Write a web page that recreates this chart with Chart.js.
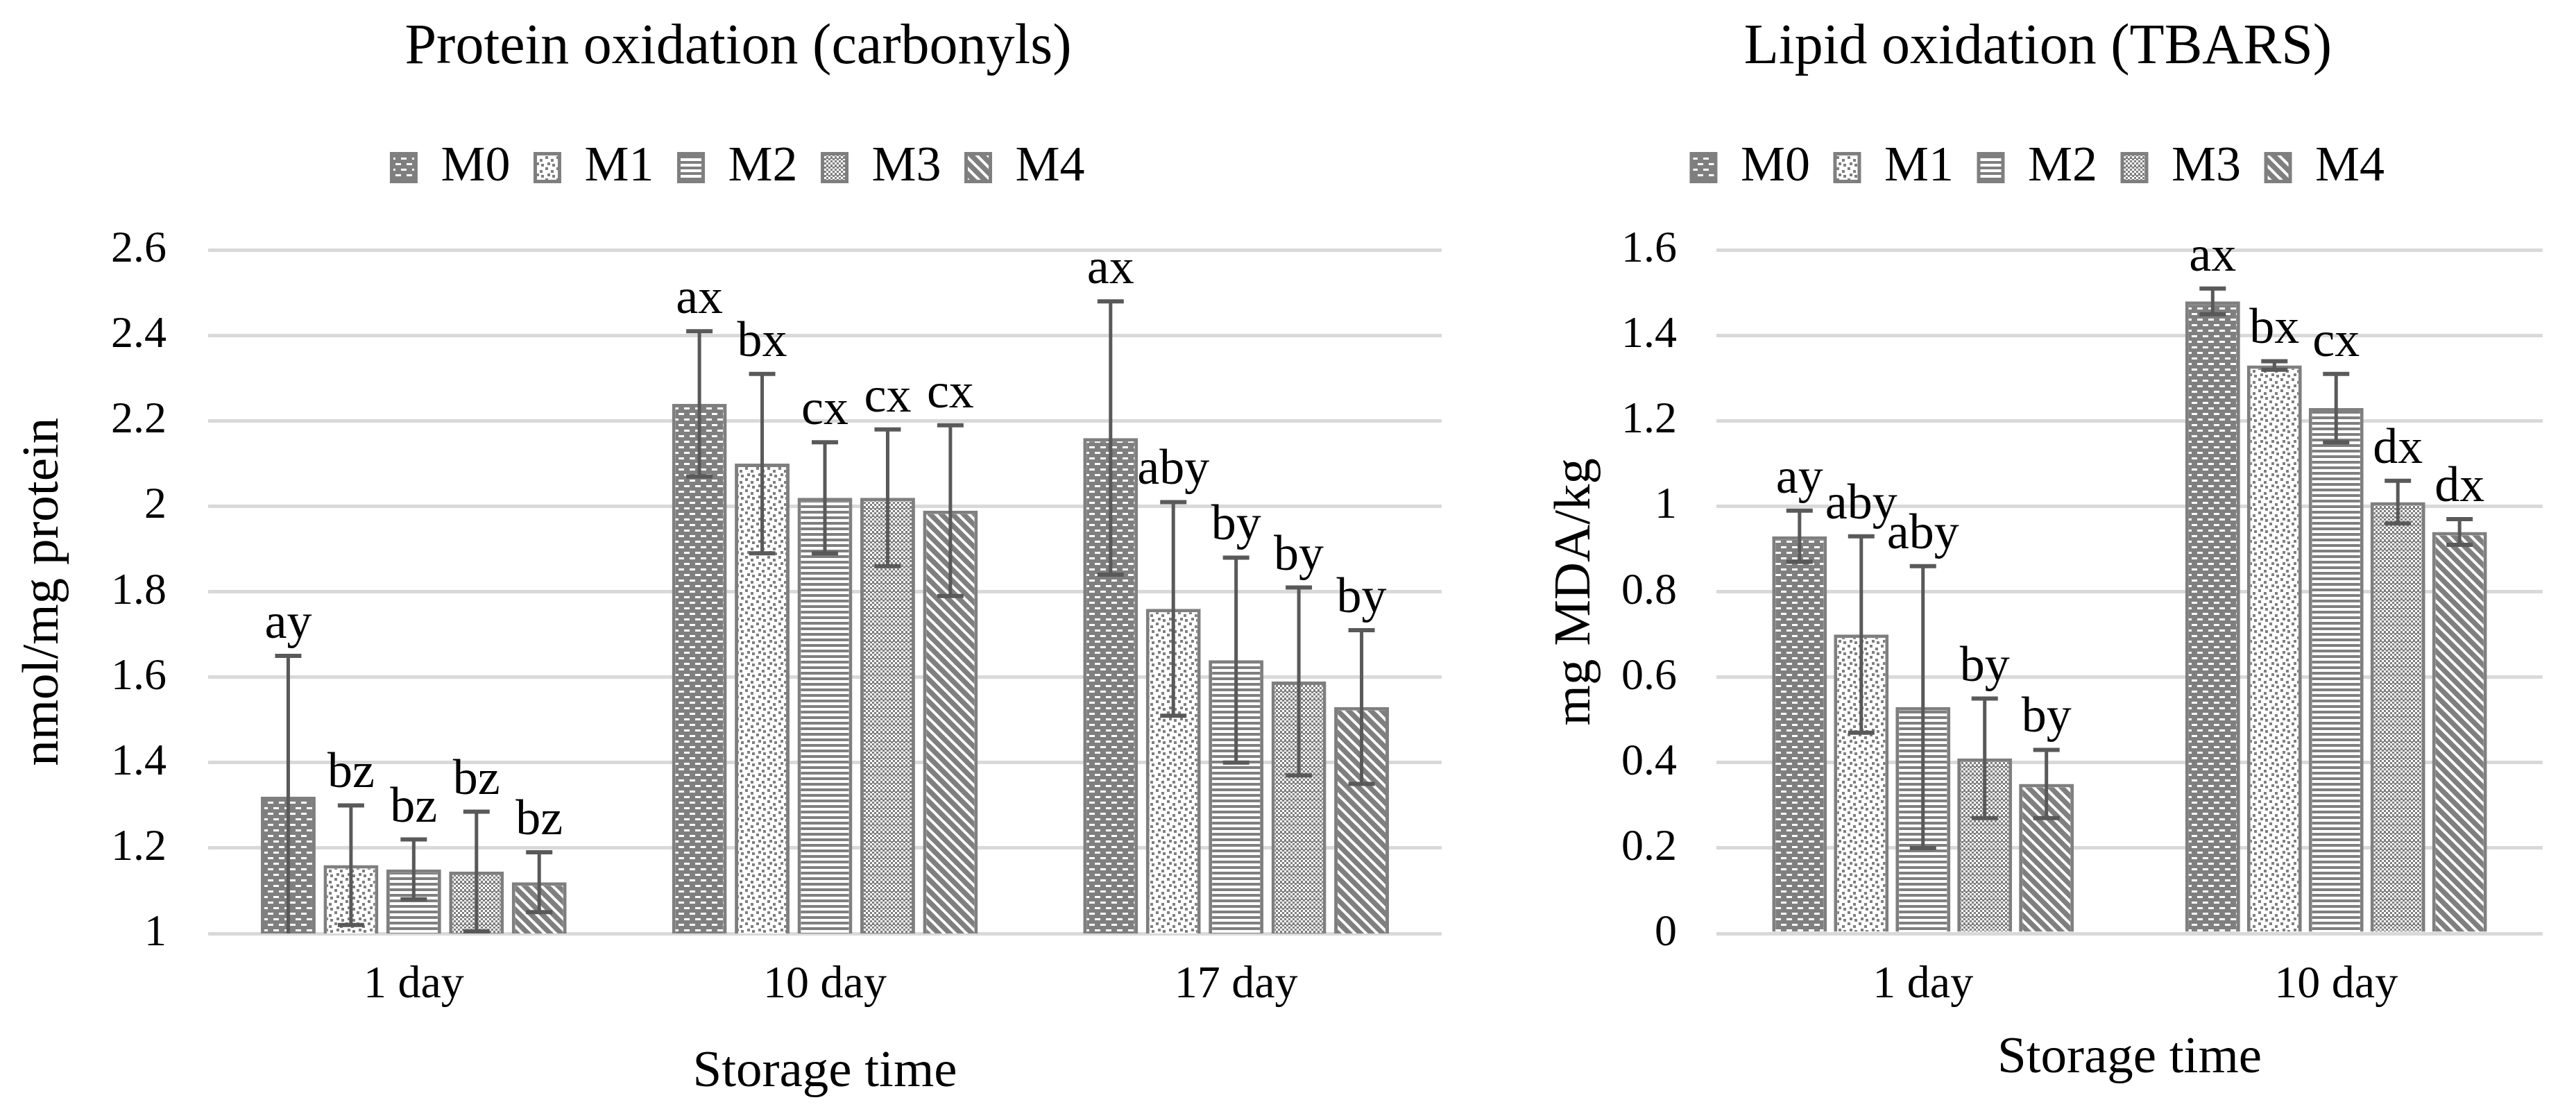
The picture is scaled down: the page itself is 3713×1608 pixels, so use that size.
<!DOCTYPE html>
<html>
<head>
<meta charset="utf-8">
<script src="https://cdn.jsdelivr.net/npm/chart.js@4.4.1/dist/chart.umd.min.js"></script>
<style>
  html, body { margin: 0; padding: 0; background: #fff; }
  body { width: 3713px; height: 1608px; position: relative; overflow: hidden; }
  .panel { position: absolute; top: 0; height: 1608px; }
  #proteinBox { left: 0; width: 2128px; }
  #lipidBox { left: 2149px; width: 1564px; }
</style>
</head>
<body>
<div class="panel" id="proteinBox"><canvas id="proteinChart"></canvas></div>
<div class="panel" id="lipidBox"><canvas id="lipidChart"></canvas></div>
<script>
const treatments = ['M0', 'M1', 'M2', 'M3', 'M4'];

// Protein oxidation (carbonyls), nmol/mg protein
const proteinDays = ['1 day', '10 day', '17 day'];
const proteinM0 = [1.32, 2.24, 2.16];
const proteinM1 = [1.16, 2.10, 1.76];
const proteinM2 = [1.15, 2.02, 1.64];
const proteinM3 = [1.145, 2.02, 1.59];
const proteinM4 = [1.12, 1.99, 1.53];
const proteinErrM0 = [0.33, 0.17, 0.32];
const proteinErrM1 = [0.14, 0.21, 0.25];
const proteinErrM2 = [0.07, 0.13, 0.24];
const proteinErrM3 = [0.14, 0.16, 0.22];
const proteinErrM4 = [0.07, 0.20, 0.18];
const proteinLetM0 = ['ay', 'ax', 'ax'];
const proteinLetM1 = ['bz', 'bx', 'aby'];
const proteinLetM2 = ['bz', 'cx', 'by'];
const proteinLetM3 = ['bz', 'cx', 'by'];
const proteinLetM4 = ['bz', 'cx', 'by'];
const proteinMin = 1, proteinMax = 2.6, proteinStep = 0.2;

// Lipid oxidation (TBARS), mg MDA/kg
const lipidDays = ['1 day', '10 day'];
const lipidM0 = [0.93, 1.48];
const lipidM1 = [0.70, 1.33];
const lipidM2 = [0.53, 1.23];
const lipidM3 = [0.41, 1.01];
const lipidM4 = [0.35, 0.94];
const lipidErrM0 = [0.06, 0.03];
const lipidErrM1 = [0.23, 0.01];
const lipidErrM2 = [0.33, 0.08];
const lipidErrM3 = [0.14, 0.05];
const lipidErrM4 = [0.08, 0.03];
const lipidLetM0 = ['ay', 'ax'];
const lipidLetM1 = ['aby', 'bx'];
const lipidLetM2 = ['aby', 'cx'];
const lipidLetM3 = ['by', 'dx'];
const lipidLetM4 = ['by', 'dx'];
const lipidMin = 0, lipidMax = 1.6, lipidStep = 0.2;

const SERIF = "'Liberation Serif', 'Times New Roman', serif";
const GRAY = '#7f7f7f';
Chart.defaults.font.family = SERIF;
Chart.defaults.color = '#000';

function tile(ctx, w, h, draw) {
    const c = document.createElement('canvas');
    c.width = w;
    c.height = h;
    const g = c.getContext('2d');
    draw(g);
    return ctx.createPattern(c, 'repeat');
}

function makePatterns(ctx) {
    return [
        tile(ctx, 16, 16, function(g) {
            g.fillStyle = GRAY; g.fillRect(0, 0, 16, 16);
            g.fillStyle = '#fff';
            g.fillRect(2, 3, 8, 3);
            g.fillRect(10, 11, 6, 3);
            g.fillRect(0, 11, 2, 3);
        }),
        tile(ctx, 16, 16, function(g) {
            g.fillStyle = '#fff'; g.fillRect(0, 0, 16, 16);
            g.fillStyle = GRAY;
            g.fillRect(2, 1, 4, 4);
            g.fillRect(10, 5, 4, 4);
            g.fillRect(5, 10, 4, 4);
            g.fillRect(12, 12, 4, 4);
        }),
        tile(ctx, 8, 8, function(g) {
            g.fillStyle = '#fff'; g.fillRect(0, 0, 8, 8);
            g.fillStyle = GRAY; g.fillRect(0, 0, 8, 4);
        }),
        tile(ctx, 12, 12, function(g) {
            g.fillStyle = '#fff'; g.fillRect(0, 0, 12, 12);
            g.fillStyle = GRAY;
            for (let r = 0; r < 4; r++) {
                for (let c = 0; c < 4; c++) {
                    if ((r + c) % 2 === 0) g.fillRect(c * 3, r * 3, 3, 3);
                }
            }
            g.fillRect(0, 0, 12, 1);
        }),
        tile(ctx, 16, 16, function(g) {
            g.fillStyle = GRAY; g.fillRect(0, 0, 16, 16);
            g.strokeStyle = '#fff';
            g.lineWidth = 4;
            for (let k = -1; k <= 1; k++) {
                g.beginPath();
                g.moveTo(-4, -4 + 16 * k);
                g.lineTo(20, 20 + 16 * k);
                g.stroke();
            }
        })
    ];
}

// error bars and significance letters
const errorBarPlugin = {
    id: 'errorBars',
    afterDatasetsDraw(chart) {
        const ctx = chart.ctx;
        const yScale = chart.scales.y;
        const area = chart.chartArea;
        chart.data.datasets.forEach(function(ds, i) {
            const meta = chart.getDatasetMeta(i);
            meta.data.forEach(function(bar, j) {
                const top = yScale.getPixelForValue(ds.data[j] + ds.errors[j]);
                const bot = yScale.getPixelForValue(ds.data[j] - ds.errors[j]);
                ctx.save();
                ctx.beginPath();
                ctx.rect(area.left, area.top - 40, area.right - area.left, area.bottom - area.top + 40);
                ctx.clip();
                ctx.strokeStyle = '#595959';
                ctx.lineWidth = 5;
                ctx.beginPath();
                ctx.moveTo(bar.x, top);
                ctx.lineTo(bar.x, bot);
                ctx.stroke();
                ctx.lineWidth = 6;
                ctx.beginPath();
                ctx.moveTo(bar.x - 19, top);
                ctx.lineTo(bar.x + 19, top);
                ctx.moveTo(bar.x - 19, bot);
                ctx.lineTo(bar.x + 19, bot);
                ctx.stroke();
                ctx.restore();

                ctx.save();
                ctx.font = '72px ' + SERIF;
                ctx.fillStyle = '#000';
                ctx.textAlign = 'center';
                ctx.textBaseline = 'alphabetic';
                ctx.fillText(ds.letters[j], bar.x, top - 26);
                ctx.restore();
            });
        });
    }
};

function buildChart(id, opts) {
    const ctx = document.getElementById(id).getContext('2d');
    const pats = makePatterns(ctx);
    return new Chart(ctx, {
        type: 'bar',
        data: {
            labels: opts.labels,
            datasets: treatments.map(function(name, i) {
                return {
                    label: name,
                    data: opts.means[i],
                    errors: opts.errors[i],
                    letters: opts.letters[i],
                    backgroundColor: pats[i],
                    borderColor: GRAY,
                    borderWidth: 5,
                    categoryPercentage: opts.catPct,
                    barPercentage: opts.barPct,
                    xAxisID: 'x',
                    yAxisID: 'y'
                };
            })
        },
        options: {
            responsive: true,
            maintainAspectRatio: false,
            devicePixelRatio: 1,
            animation: false,
            layout: {
                padding: { left: opts.padLeft, right: opts.padRight, top: 0, bottom: 0 }
            },
            plugins: {
                title: {
                    display: true,
                    text: opts.title,
                    font: { size: 82, weight: 'normal' },
                    color: '#000',
                    padding: { top: 20, bottom: 51 }
                },
                legend: {
                    position: 'top',
                    labels: {
                        font: { size: 72 },
                        boxWidth: 35,
                        boxHeight: 40,
                        padding: 36,
                        color: '#000'
                    }
                },
                tooltip: { enabled: false }
            },
            scales: {
                x: {
                    position: 'bottom',
                    grid: { display: false, drawTicks: false },
                    border: { display: false },
                    ticks: { font: { size: 66 }, padding: 35, maxRotation: 0 },
                    title: {
                        display: true,
                        text: 'Storage time',
                        font: { size: 75 },
                        padding: { top: 0, bottom: opts.xTitlePad }
                    },
                    afterFit: function(scale) { scale.height = 263; }
                },
                xTop: {
                    type: 'category',
                    labels: opts.labels,
                    position: 'top',
                    grid: { display: false, drawTicks: false },
                    border: { display: false },
                    ticks: { display: false },
                    afterFit: function(scale) { scale.height = 73; }
                },
                y: {
                    min: opts.min,
                    max: opts.max,
                    ticks: {
                        stepSize: opts.step,
                        font: { size: 64 },
                        padding: opts.tickPad,
                        callback: function(v) { return String(+v.toFixed(1)); }
                    },
                    grid: { color: '#d9d9d9', lineWidth: 5, drawTicks: false },
                    border: { display: false },
                    title: {
                        display: true,
                        text: opts.yTitle,
                        font: { size: 75 },
                        padding: { top: opts.yTitlePad, bottom: 0 }
                    },
                    afterFit: function(scale) { scale.width = opts.yWidth; }
                }
            }
        },
        plugins: [errorBarPlugin]
    });
}

buildChart('proteinChart', {
    title: 'Protein oxidation (carbonyls)',
    yTitle: 'nmol/mg protein',
    labels: proteinDays,
    means: [proteinM0, proteinM1, proteinM2, proteinM3, proteinM4],
    errors: [proteinErrM0, proteinErrM1, proteinErrM2, proteinErrM3, proteinErrM4],
    letters: [proteinLetM0, proteinLetM1, proteinLetM2, proteinLetM3, proteinLetM4],
    min: proteinMin, max: proteinMax, step: proteinStep,
    catPct: 0.763, barPct: 0.873,
    padLeft: 50, padRight: 50,
    yWidth: 250, tickPad: 60, yTitlePad: -32,
    xTitlePad: 18
});

buildChart('lipidChart', {
    title: 'Lipid oxidation (TBARS)',
    yTitle: 'mg MDA/kg',
    labels: lipidDays,
    means: [lipidM0, lipidM1, lipidM2, lipidM3, lipidM4],
    errors: [lipidErrM0, lipidErrM1, lipidErrM2, lipidErrM3, lipidErrM4],
    letters: [lipidLetM0, lipidLetM1, lipidLetM2, lipidLetM3, lipidLetM4],
    min: lipidMin, max: lipidMax, step: lipidStep,
    catPct: 0.747, barPct: 0.888,
    padLeft: 61, padRight: 48,
    yWidth: 264, tickPad: 57, yTitlePad: 16,
    xTitlePad: 38
});
</script>
</body>
</html>
